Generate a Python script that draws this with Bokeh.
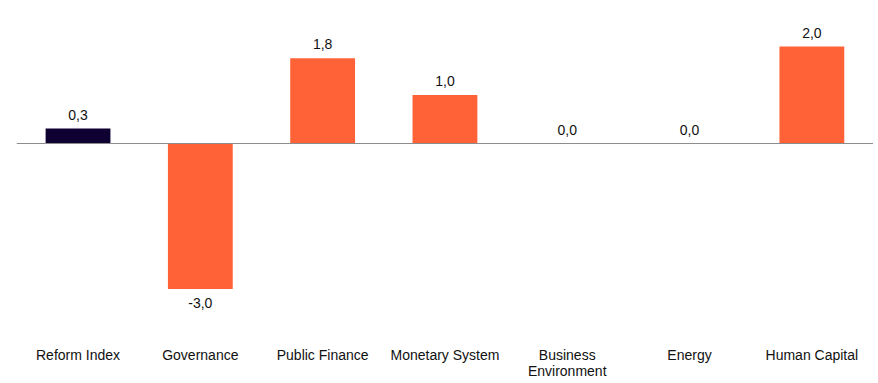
from bokeh.plotting import figure
from bokeh.models import ColumnDataSource, Span, FixedTicker, Range1d
from bokeh.core.properties import value
from bokeh.embed import file_html
from bokeh.resources import INLINE

categories = ["Reform Index", "Governance", "Public Finance", "Monetary System",
              "Business\nEnvironment", "Energy", "Human Capital"]
values = [0.31, -3.0, 1.76, 1.0, 0.0, 0.0, 2.0]
colors = ["#0E0030", "#FF6236", "#FF6236", "#FF6236", "#FF6236", "#FF6236", "#FF6236"]

xs = list(range(len(categories)))
labels = [f"{v:.1f}".replace(".", ",") for v in values]
src_pos = ColumnDataSource(dict(x=[x for x, v in zip(xs, values) if v >= 0],
                                y=[v for v in values if v >= 0],
                                t=[l for l, v in zip(labels, values) if v >= 0]))
src_neg = ColumnDataSource(dict(x=[x for x, v in zip(xs, values) if v < 0],
                                y=[v for v in values if v < 0],
                                t=[l for l, v in zip(labels, values) if v < 0]))
bars = ColumnDataSource(dict(x=xs, top=values, color=colors))

p = figure(frame_width=857, frame_height=336, output_backend="svg", toolbar_location=None,
           x_range=Range1d(-0.503, 6.504), y_range=Range1d(-3.98, 2.95),
           min_border_left=16, min_border_right=0, min_border_top=0, min_border_bottom=0)
p.outline_line_color = None
p.grid.visible = False
p.yaxis.visible = False

p.vbar(x="x", top="top", bottom=0, width=0.53, fill_color="color", line_color=None, source=bars)

zero = Span(location=0, dimension="width", line_color="#8C8C8C", line_width=1)
p.add_layout(zero)

for src, off in ((src_pos, -14), (src_neg, 14)):
    p.text(x="x", y="y", text="t", source=src, text_align="center", text_baseline="middle",
           y_offset=off, text_font=value("Liberation Sans"), text_font_size="14px",
           text_color="#111111")

p.xaxis.ticker = FixedTicker(ticks=xs)
p.xaxis.major_label_overrides = {i: c for i, c in enumerate(categories)}
p.xaxis.axis_line_color = None
p.xaxis.major_tick_line_color = None
p.xaxis.minor_tick_line_color = None
p.xaxis.major_label_text_font = "Liberation Sans"
p.xaxis.major_label_text_font_size = "14px"
p.xaxis.major_label_text_color = "#111111"
p.xaxis.major_label_text_line_height = 1.0
p.xaxis.major_label_standoff = 4

open("out.html", "w").write(file_html(p, INLINE))
